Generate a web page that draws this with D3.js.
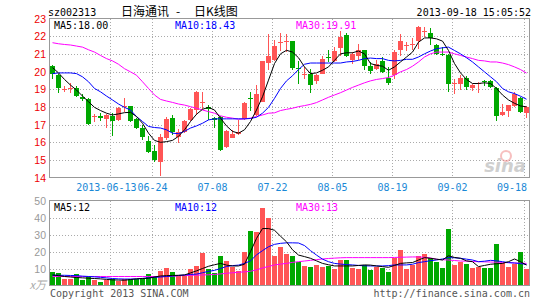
<!DOCTYPE html>
<html>
<head>
<meta charset="utf-8">
<script src="https://cdn.jsdelivr.net/npm/d3@7/dist/d3.min.js"></script>
<style>
body { margin: 0; background: #fff; }
svg text { font-family: 'DejaVu Sans Mono', monospace; }
</style>
</head>
<body>
<div id="chart"></div>
<script>
// daily candles, 2013-05-27 .. 2013-09-18
const openPrices  = [20.33, 19.8, 18.98, 19.04, 19.06, 18.57, 18.42, 17.46, 17.49, 17.3,
                     17.49, 17.24, 18.02, 18.05, 17.3, 16.83, 16.08, 15.52, 14.85, 16.23,
                     17.36, 16.28, 16.6, 17.26, 17.83, 18.25, 17.98, 17.38, 17.41, 15.73,
                     16.25, 16.45, 17.3, 18.52, 17.54, 18.3, 20.5, 20.64, 21.62, 21.7,
                     21.72, 20.22, 19.83, 19.88, 19.47, 19.88, 20.8, 20.6, 21.34, 22.04,
                     20.67, 20.86, 21.2, 20.3, 20.13, 20.6, 19.66, 19.79, 21.19, 21.45,
                     21.55, 21.72, 22.24, 22.17, 21.48, 21.0, 20.93, 19.3, 19.28, 19.66,
                     19.08, 19.34, 19.48, 19.47, 19.04, 17.54, 17.79, 18.05, 18.48, 17.67];
const highPrices  = [20.39, 19.85, 19.17, 19.36, 19.17, 18.72, 18.48, 17.6, 17.63, 17.6,
                     17.67, 18.0, 18.5, 18.05, 17.36, 17.0, 16.35, 15.85, 16.47, 17.4,
                     17.55, 16.75, 17.26, 17.92, 18.9, 18.85, 18.1, 17.45, 17.5, 16.7,
                     16.68, 17.25, 18.25, 18.85, 19.23, 20.62, 22.1, 21.76, 22.17, 22.13,
                     21.75, 20.6, 20.25, 20.16, 19.88, 20.9, 21.23, 21.38, 22.3, 22.2,
                     21.1, 21.53, 21.23, 20.54, 20.63, 20.82, 20.26, 21.23, 22.13, 21.66,
                     21.9, 22.6, 22.5, 22.45, 21.57, 21.4, 21.0, 19.6, 19.79, 19.73,
                     19.32, 19.4, 19.5, 19.54, 19.13, 18.16, 18.1, 18.85, 18.57, 18.05];
const lowPrices   = [19.6, 18.76, 18.85, 18.76, 18.54, 18.35, 17.0, 17.15, 17.17, 16.8,
                     16.33, 17.2, 17.72, 17.15, 16.75, 16.15, 15.4, 14.85, 14.07, 16.1,
                     16.42, 15.98, 16.52, 17.22, 17.55, 17.9, 17.26, 16.8, 15.5, 15.68,
                     16.22, 16.38, 17.26, 17.75, 17.5, 18.25, 20.07, 20.6, 21.15, 21.1,
                     20.1, 19.3, 19.55, 18.8, 19.27, 19.85, 20.54, 20.55, 20.86, 20.8,
                     20.45, 20.67, 20.08, 19.85, 20.08, 19.92, 19.23, 19.6, 20.86, 21.15,
                     21.2, 21.3, 21.94, 21.5, 20.91, 20.9, 18.85, 18.72, 18.98, 18.98,
                     18.88, 18.76, 19.2, 19.08, 17.17, 17.5, 17.41, 17.97, 17.64, 17.36];
const closePrices = [19.88, 19.05, 19.0, 19.07, 18.61, 18.45, 17.04, 17.48, 17.34, 17.56,
                     17.19, 17.92, 18.05, 17.2, 16.83, 16.29, 15.43, 14.97, 16.3, 17.3,
                     16.58, 16.58, 17.17, 17.86, 18.85, 18.3, 17.9, 17.28, 15.54, 16.66,
                     16.48, 16.55, 18.2, 18.46, 18.72, 20.6, 20.9, 21.42, 21.66, 21.73,
                     20.2, 20.18, 19.86, 19.23, 19.79, 20.69, 20.76, 21.14, 21.94, 20.86,
                     20.97, 21.23, 20.3, 20.03, 20.41, 19.98, 19.36, 21.1, 21.72, 21.48,
                     21.58, 22.54, 22.27, 21.9, 21.0, 20.96, 19.32, 19.34, 19.66, 19.1,
                     19.23, 19.37, 19.45, 19.13, 17.49, 17.69, 18.1, 18.72, 17.73, 17.97];

const ma5  = [20.22, 19.92, 19.55, 19.23, 18.95, 18.61, 18.29, 17.97, 17.79, 17.64,
              17.54, 17.6, 17.67, 17.69, 17.45, 17.07, 16.51, 16.1, 15.99, 16.03,
              16.1, 16.33, 16.7, 17.17, 17.58, 17.86, 17.97, 17.82, 17.36, 16.92,
              16.61, 16.51, 16.7, 17.17, 17.82, 18.57, 19.51, 20.45, 21.0, 21.2,
              21.1, 20.78, 20.26, 19.88, 19.92, 20.07, 20.26, 20.63, 21.0, 21.06,
              21.06, 21.16, 21.0, 20.45, 20.35, 20.3, 20.07, 20.26, 20.54, 20.82,
              21.1, 21.66, 21.9, 21.9, 21.85, 21.72, 21.19, 20.45, 19.92, 19.55,
              19.32, 19.32, 19.36, 19.32, 19.04, 18.67, 18.39, 18.2, 18.05, 18.0];
const ma10 = [19.88, 19.92, 19.92, 19.92, 19.88, 19.7, 19.42, 19.04, 18.85, 18.61,
              18.39, 18.16, 17.97, 17.82, 17.45, 17.17, 16.89, 16.83, 16.8, 16.7,
              16.51, 16.48, 16.61, 16.8, 16.92, 17.07, 17.26, 17.32, 17.32, 17.32,
              17.32, 17.32, 17.32, 17.34, 17.41, 17.64, 17.97, 18.48, 19.04, 19.47,
              19.76, 20.11, 20.41, 20.48, 20.48, 20.48, 20.48, 20.48, 20.48, 20.54,
              20.57, 20.63, 20.73, 20.76, 20.73, 20.73, 20.63, 20.6, 20.63, 20.69,
              20.69, 20.82, 21.0, 21.16, 21.29, 21.34, 21.38, 21.19, 21.0, 20.78,
              20.54, 20.26, 19.98, 19.7, 19.42, 19.04, 18.85, 18.75, 18.6, 18.43];
const ma30 = [21.63, 21.57, 21.53, 21.5, 21.44, 21.38, 21.23, 21.1, 20.91, 20.73,
              20.6, 20.41, 20.16, 19.98, 19.79, 19.42, 19.04, 18.67, 18.42, 18.33,
              18.25, 18.16, 18.1, 18.01, 17.92, 17.82, 17.73, 17.64, 17.49, 17.41,
              17.36, 17.3, 17.32, 17.36, 17.45, 17.54, 17.64, 17.66, 17.79, 17.86,
              17.92, 18.01, 18.07, 18.14, 18.24, 18.39, 18.54, 18.67, 18.8, 18.95,
              19.1, 19.23, 19.36, 19.47, 19.55, 19.6, 19.66, 19.79, 19.98, 20.11,
              20.3, 20.54, 20.82, 21.0, 21.1, 21.1, 21.1, 21.0, 20.91, 20.82,
              20.73, 20.63, 20.6, 20.54, 20.54, 20.48, 20.39, 20.26, 20.11, 19.91];

// volume in 10k lots
const volumes = [7.8, 7.2, 3.7, 4.1, 6.6, 3.3, 5.7, 3.3, 2.3, 3.5,
                 3.9, 2.7, 3.7, 3.9, 3.9, 3.9, 6.6, 5.5, 8.6, 10.3,
                 7.8, 5.3, 5.7, 9.9, 11.5, 19.1, 9.7, 7.4, 17.3, 14.4,
                 10.9, 8.6, 19.7, 32, 31.4, 45.4, 39.6, 17.4, 22.6, 18.3,
                 17.3, 14, 11.7, 10.9, 12.1, 11.1, 11.7, 9.9, 15, 15,
                 10.3, 9.9, 12.1, 9, 11.1, 10.3, 8, 16.4, 20.9, 9.9,
                 12.1, 17.3, 18.5, 16, 14, 10.1, 33.1, 12.1, 13.6, 12.7,
                 10.5, 11.1, 10.1, 10.5, 24.4, 13.5, 11.1, 12.7, 19.9, 9.9];
const volMa5  = [6.2, 5.8, 5.3, 5.0, 4.7, 4.5, 4.3, 4.1, 3.9, 3.6,
                 3.3, 3.2, 3.1, 3.5, 3.9, 4.1, 4.3, 5.0, 5.6, 5.8,
                 5.9, 6.0, 6.2, 7.4, 8.6, 10, 11.3, 12.2, 13, 12,
                 11.5, 11.5, 12.5, 19.9, 27.7, 33.5, 33.5, 32.5, 29, 25.7,
                 21, 17.9, 17, 16, 14.5, 13, 12.2, 11.5, 11.5, 11.5,
                 11.5, 11.8, 12.1, 12, 11.5, 11.1, 10.7, 11.8, 13, 13.3,
                 13.5, 15, 16.4, 16, 15.5, 15, 17.5, 16.5, 16, 14.5,
                 14, 11.1, 11.8, 12.5, 12.8, 13, 14, 15.6, 14, 12];
const volMa10 = [6.1, 6.0, 6.0, 5.9, 5.8, 5.5, 5.3, 5.1, 4.8, 4.5,
                 4.1, 3.9, 3.8, 3.8, 3.9, 4.2, 4.5, 4.8, 5.0, 5.3,
                 5.6, 5.9, 6.2, 6.5, 6.7, 7.5, 8.3, 8.9, 10, 11.2,
                 11.7, 12, 13, 14.5, 18, 20.5, 22.8, 24.2, 24.8, 25.1,
                 25.1, 25, 23.5, 20.5, 17.9, 15.5, 14, 13, 12.6, 12.3,
                 12.1, 11.8, 11.6, 11.5, 11.5, 11.5, 11.7, 12.1, 12.1, 12.1,
                 12.5, 13.5, 14, 14.6, 15, 15.6, 16.4, 16.3, 16, 15.5,
                 15, 14, 14.3, 14.8, 14.5, 14, 13.5, 13.2, 12.9, 12.4];
const volMa30 = [5.3, 5.3, 5.3, 5.3, 5.3, 5.3, 5.3, 5.3, 5.3, 5.3,
                 5.3, 5.3, 5.3, 5.3, 5.3, 5.3, 5.3, 5.3, 5.3, 5.3,
                 5.5, 5.7, 5.9, 6.0, 6.1, 6.2, 6.3, 6.5, 6.8, 7.2,
                 7.5, 7.8, 8.0, 8.4, 9.2, 10.3, 11.2, 12.1, 12.6, 13,
                 13.6, 14, 14.4, 14.8, 15.2, 15.6, 15.9, 16.1, 16.3, 16.4,
                 16.4, 16.4, 16.4, 16.4, 16.4, 16.4, 16.4, 16.5, 16.6, 16.7,
                 16.8, 16.8, 16.6, 16.2, 15.4, 15.2, 15, 14.7, 14.4, 14.3,
                 14.1, 14, 13.9, 13.8, 13.7, 13.6, 13.4, 13.3, 13.1, 13];

const priceTicks  = [23, 22, 21, 20, 19, 18, 17, 16, 15, 14];
const volumeTicks = [50, 40, 30, 20, 10];
const dateLabels  = ['2013-06-13', '06-24', '07-08', '07-22', '08-05', '08-19', '09-02', '09-18'];
const dateIndex   = [10, 17, 27, 37, 47, 57, 67, 79];
const legendMain  = ['MA5:18.00', 'MA10:18.43', 'MA30:19.91'];
const legendVol   = ['MA5:12', 'MA10:12', 'MA30:13'];

const width  = 545;
const height = 300;

const red    = '#ff5555';
const green  = '#00a800';
const lineColors = ['#000000', '#0000ff', '#ff00ff'];

const svg = d3.select( '#chart' )
			  .append( 'svg' )
			  .attr( 'width', width )
			  .attr( 'height', height );

const x = d3.scaleBand()
			.domain( d3.range( closePrices.length ) )
			.range( [50, 530] );

const y = d3.scaleLinear()
			.domain( [14, 23] )
			.range( [177.5, 18.5] );

const yv = d3.scaleLinear()
			 .domain( [0, 50] )
			 .range( [285.5, 200.5] );

const mid = i => x( i ) + 2.5;
const isUp = i => closePrices[i] >= openPrices[i];

// header
svg.append( 'text' )
   .attr( 'x', 48 ).attr( 'y', 15.5 )
   .attr( 'font-size', '10px' ).attr( 'fill', '#000' )
   .text( 'sz002313' );

const title = svg.append( 'g' )
				 .attr( 'font-size', '12px' )
				 .attr( 'fill', '#000' );
title.append( 'text' ).attr( 'x', 121 ).attr( 'y', 16 )
	 .style( 'font-family', '"Noto Sans CJK SC"' ).text( '日海通讯' );
title.append( 'text' ).attr( 'x', 176 ).attr( 'y', 16 )
	 .style( 'font-family', '"Noto Sans CJK SC"' ).text( '-' );
title.append( 'text' ).attr( 'x', 194 ).attr( 'y', 16 )
	 .style( 'font-family', '"Noto Sans CJK SC"' ).text( '日K线图' );

svg.append( 'text' )
   .attr( 'x', 531 ).attr( 'y', 15.5 )
   .attr( 'text-anchor', 'end' )
   .attr( 'font-size', '10px' ).attr( 'fill', '#000' )
   .text( '2013-09-18 15:05:52' );

// grids
const gridX = dateIndex.map( i => x( i ) + 0.5 );

const grid = svg.append( 'g' )
				.attr( 'stroke', '#aaaaaa' )
				.attr( 'stroke-dasharray', '1,2' )
				.attr( 'shape-rendering', 'crispEdges' );

grid.selectAll( '.hp' )
	.data( priceTicks.slice( 1, -1 ) )
	.enter()
	.append( 'line' )
	.attr( 'x1', 50 ).attr( 'x2', 529 )
	.attr( 'y1', d => Math.round( y( d ) ) + 0.5 )
	.attr( 'y2', d => Math.round( y( d ) ) + 0.5 );

grid.selectAll( '.hv' )
	.data( volumeTicks.slice( 1 ) )
	.enter()
	.append( 'line' )
	.attr( 'x1', 50 ).attr( 'x2', 529 )
	.attr( 'y1', d => Math.round( yv( d ) ) + 0.5 )
	.attr( 'y2', d => Math.round( yv( d ) ) + 0.5 );

grid.selectAll( '.vp' )
	.data( gridX )
	.enter()
	.append( 'line' )
	.attr( 'x1', d => d ).attr( 'x2', d => d )
	.attr( 'y1', 19 ).attr( 'y2', 177 );

grid.selectAll( '.vv' )
	.data( gridX )
	.enter()
	.append( 'line' )
	.attr( 'x1', d => d ).attr( 'x2', d => d )
	.attr( 'y1', 201 ).attr( 'y2', 285 );

// axis labels
svg.append( 'g' )
   .attr( 'font-size', '10.5px' )
   .attr( 'fill', '#ee0000' )
   .attr( 'text-anchor', 'end' )
   .selectAll( 'text' )
   .data( priceTicks )
   .enter()
   .append( 'text' )
   .style( 'font-family', '"Liberation Sans", sans-serif' )
   .attr( 'x', 46 )
   .attr( 'y', d => y( d ) + 4 )
   .text( d => d );

svg.append( 'g' )
   .attr( 'font-size', '10.5px' )
   .attr( 'fill', '#999999' )
   .attr( 'text-anchor', 'end' )
   .selectAll( 'text' )
   .data( volumeTicks )
   .enter()
   .append( 'text' )
   .style( 'font-family', '"Liberation Sans", sans-serif' )
   .attr( 'x', 46 )
   .attr( 'y', d => yv( d ) + 4 )
   .text( d => d );

svg.append( 'text' )
   .attr( 'x', 46 ).attr( 'y', 289 )
   .attr( 'text-anchor', 'end' )
   .attr( 'font-size', '11px' ).attr( 'fill', '#aaaaaa' )
   .style( 'font-family', '"Noto Sans CJK SC"' )
   .style( 'font-style', 'italic' )
   .text( 'x万' );

// first label sits just left of its tick so it does not run into 06-24
svg.append( 'g' )
   .attr( 'font-size', '10px' )
   .attr( 'fill', '#1a88d6' )
   .selectAll( 'text' )
   .data( dateLabels )
   .enter()
   .append( 'text' )
   .attr( 'x', ( d, i ) => i === 0 ? gridX[1] - 16 : i === dateLabels.length - 1 ? 527 : gridX[i] )
   .attr( 'y', 190.5 )
   .attr( 'text-anchor', ( d, i ) => i === 0 || i === dateLabels.length - 1 ? 'end' : 'middle' )
   .text( d => d );

// sina watermark
const mark = svg.append( 'g' ).attr( 'opacity', 0.5 );
mark.append( 'circle' ).attr( 'cx', 506 ).attr( 'cy', 156 ).attr( 'r', 5 )
	.attr( 'fill', 'none' ).attr( 'stroke', '#f08080' ).attr( 'stroke-width', 2 );
mark.append( 'text' )
	.attr( 'x', 526 ).attr( 'y', 172 )
	.attr( 'text-anchor', 'end' )
	.attr( 'font-size', '18px' ).attr( 'font-weight', 'bold' ).attr( 'font-style', 'italic' )
	.attr( 'fill', '#a0a0a0' )
	.style( 'font-family', '"DejaVu Sans", sans-serif' )
	.text( 'sina' );

// candles
const candles = svg.append( 'g' ).attr( 'shape-rendering', 'crispEdges' );

candles.selectAll( '.wick' )
	   .data( closePrices )
	   .enter()
	   .append( 'line' )
	   .attr( 'x1', ( d, i ) => mid( i ) ).attr( 'x2', ( d, i ) => mid( i ) )
	   .attr( 'y1', ( d, i ) => y( highPrices[i] ) )
	   .attr( 'y2', ( d, i ) => y( lowPrices[i] ) )
	   .attr( 'stroke', ( d, i ) => isUp( i ) ? red : green );

candles.selectAll( '.body' )
	   .data( closePrices )
	   .enter()
	   .append( 'rect' )
	   .attr( 'x', ( d, i ) => x( i ) )
	   .attr( 'width', 5 )
	   .attr( 'y', ( d, i ) => y( Math.max( openPrices[i], d ) ) )
	   .attr( 'height', ( d, i ) => Math.max( 1, Math.abs( y( openPrices[i] ) - y( d ) ) ) )
	   .attr( 'fill', ( d, i ) => isUp( i ) ? red : green );

// volume bars
svg.append( 'g' )
   .attr( 'shape-rendering', 'crispEdges' )
   .selectAll( 'rect' )
   .data( volumes )
   .enter()
   .append( 'rect' )
   .attr( 'x', ( d, i ) => x( i ) )
   .attr( 'width', 5 )
   .attr( 'y', d => yv( d ) )
   .attr( 'height', d => yv( 0 ) - yv( d ) )
   .attr( 'fill', ( d, i ) => isUp( i ) ? red : green );

// moving averages
const line = d3.line()
			   .x( ( d, i ) => mid( i ) )
			   .y( d => y( d ) );

const vline = d3.line()
				.x( ( d, i ) => mid( i ) )
				.y( d => yv( d ) );

[ma30, ma10, ma5].forEach( ( s, k ) => {
	svg.append( 'path' )
	   .attr( 'd', line( s ) )
	   .attr( 'fill', 'none' )
	   .attr( 'stroke', lineColors[2 - k] )
	   .attr( 'stroke-width', 1 );
} );

[volMa30, volMa10, volMa5].forEach( ( s, k ) => {
	svg.append( 'path' )
	   .attr( 'd', vline( s ) )
	   .attr( 'fill', 'none' )
	   .attr( 'stroke', lineColors[2 - k] )
	   .attr( 'stroke-width', 1 );
} );

// frames
svg.append( 'rect' )
   .attr( 'x', 49.5 ).attr( 'y', 18.5 )
   .attr( 'width', 480 ).attr( 'height', 159 )
   .attr( 'fill', 'none' ).attr( 'stroke', '#999999' );

svg.append( 'rect' )
   .attr( 'x', 49.5 ).attr( 'y', 200.5 )
   .attr( 'width', 480 ).attr( 'height', 85 )
   .attr( 'fill', 'none' ).attr( 'stroke', '#999999' );

// legends
const legendX = [54, 175, 296];

svg.append( 'g' )
   .attr( 'font-size', '10px' )
   .selectAll( 'text' )
   .data( legendMain )
   .enter()
   .append( 'text' )
   .attr( 'x', ( d, i ) => legendX[i] )
   .attr( 'y', 28.5 )
   .attr( 'fill', ( d, i ) => lineColors[i] )
   .text( d => d );

svg.append( 'g' )
   .attr( 'font-size', '10px' )
   .selectAll( 'text' )
   .data( legendVol )
   .enter()
   .append( 'text' )
   .attr( 'x', ( d, i ) => legendX[i] )
   .attr( 'y', 210.5 )
   .attr( 'fill', ( d, i ) => lineColors[i] )
   .text( d => d );

// footer
svg.append( 'text' )
   .attr( 'x', 50 ).attr( 'y', 296.5 )
   .attr( 'font-size', '10px' ).attr( 'fill', '#555555' )
   .text( 'Copyright 2013 SINA.COM' );

svg.append( 'text' )
   .attr( 'x', 530 ).attr( 'y', 296.5 )
   .attr( 'text-anchor', 'end' )
   .attr( 'font-size', '10px' ).attr( 'fill', '#555555' )
   .text( 'http://finance.sina.com.cn' );
</script>
</body>
</html>
